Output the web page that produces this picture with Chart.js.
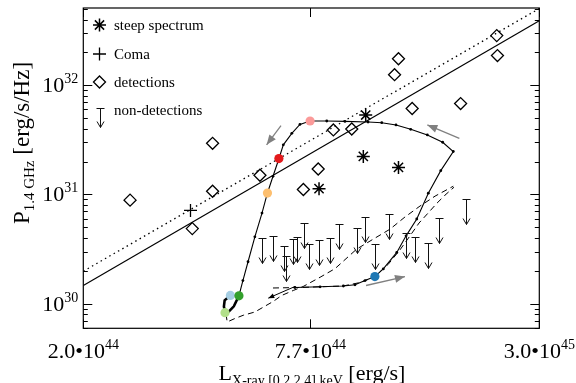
<!DOCTYPE html>
<html>
<head>
<meta charset="utf-8">
<script src="https://cdn.jsdelivr.net/npm/chart.js@4.4.0/dist/chart.umd.min.js"></script>
<style>
html, body { margin: 0; padding: 0; background: #fff; }
</style>
</head>
<body>
<canvas id="c" width="576" height="383"></canvas>
<script>
// axis ranges and tick labels
var xMin = 2.0e44, xMax = 3.0e45;
var yMin = 5.95e29, yMax = 5.1e32;
var xTicks = [2.0e44, 7.7e44, 3.0e45];
var xTickLabels = [['2.0\u202210', '44'], ['7.7\u202210', '44'], ['3.0\u202210', '45']];
var yTicks = [1e30, 1e31, 1e32];
var yTickLabels = [['10', '30'], ['10', '31'], ['10', '32']];

// fitted relations
var fitX = [2.0e44, 3.0e45];
var fitSolidY = [1.47e30, 3.90e32];
var fitDottedY = [1.98e30, 5.04e32];

// radio detections
var detX = [2.64e44, 4.31e44, 4.31e44, 3.82e44, 5.71e44, 7.39e44, 8.07e44, 8.83e44, 9.85e44, 1.41e45, 1.30e45, 1.27e45, 1.88e45, 2.33e45, 2.34e45];
var detY = [8.87e30, 2.94e31, 1.07e31, 4.87e30, 1.50e31, 1.11e31, 1.71e31, 3.90e31, 3.98e31, 6.13e31, 1.75e32, 1.25e32, 6.80e31, 2.85e32, 1.87e32];

// steep spectrum sources
var steepX = [1.07e45, 1.055e45, 1.30e45, 8.11e44];
var steepY = [5.34e31, 2.23e31, 1.77e31, 1.13e31];

// Coma
var comaX = [3.78e44];
var comaY = [7.15e30];

// upper limits (non-detections)
var limX = [5.77e44, 6.18e44, 6.60e44, 6.67e44, 6.94e44, 7.13e44, 7.42e44, 7.66e44, 8.12e44, 8.66e44, 9.13e44, 1.018e45, 1.066e45, 1.131e45, 1.229e45, 1.36e45, 1.43e45, 1.55e45, 1.65e45, 1.94e45];
var limY = [4.03e30, 4.18e30, 3.34e30, 2.71e30, 3.90e30, 4.12e30, 5.43e30, 3.53e30, 3.80e30, 3.98e30, 5.34e30, 4.97e30, 6.26e30, 3.51e30, 6.66e30, 4.42e30, 4.12e30, 3.56e30, 6.13e30, 9.12e30];

// simulated track
var trackX = [7.03e44, 8.16e44, 9.37e44, 1.004e45, 1.066e45, 1.129e45, 1.188e45, 1.287e45, 1.36e45, 1.449e45, 1.552e45, 1.671e45, 1.80e45, 1.69e45, 1.543e45, 1.398e45, 1.281e45, 1.177e45, 1.085e45, 9.46e44, 8.49e44, 7.69e44, 7.24e44, 6.90e44, 6.56e44, 6.39e44, 6.17e44, 5.97e44, 5.78e44, 5.54e44, 5.32e44, 5.16e44, 5.04e44];
var trackY = [1.407e30, 1.427e30, 1.451e30, 1.488e30, 1.628e30, 1.771e30, 2.08e30, 2.945e30, 4.18e30, 5.96e30, 1.028e31, 1.653e31, 2.475e31, 3.008e31, 3.51e31, 3.95e31, 4.33e31, 4.54e31, 4.61e31, 4.67e31, 4.71e31, 4.71e31, 4.38e31, 3.63e31, 2.85e31, 2.125e31, 1.467e31, 1.032e31, 6.76e30, 4.09e30, 2.42e30, 1.628e30, 1.182e30];
var hookX = [5.04e44, 4.89e44, 4.75e44, 4.64e44, 4.61e44, 4.63e44, 4.79e44];
var hookY = [1.182e30, 9.45e29, 8.51e29, 8.28e29, 9.45e29, 1.072e30, 1.19e30];

var dashAX = [4.67e44, 4.70e44, 4.92e44, 5.17e44, 5.54e44, 5.89e44, 6.18e44, 6.50e44, 6.96e44, 7.38e44, 8.16e44, 8.92e44, 1.014e45, 1.119e45, 1.236e45, 1.351e45, 1.477e45, 1.615e45, 1.80e45];
var dashAY = [7.99e29, 6.80e29, 7.31e29, 7.83e29, 8.39e29, 9.51e29, 1.049e30, 1.19e30, 1.321e30, 1.436e30, 1.745e30, 2.094e30, 3.16e30, 3.90e30, 4.81e30, 6.22e30, 7.83e30, 9.65e30, 1.19e31];
var dashBX = [6.17e44, 7.24e44, 9.35e44, 1.034e45, 1.124e45, 1.221e45, 1.312e45, 1.392e45, 1.469e45, 1.55e45, 1.634e45, 1.713e45, 1.808e45];
var dashBY = [1.392e30, 1.407e30, 1.451e30, 1.561e30, 1.752e30, 2.277e30, 3.116e30, 4.18e30, 5.48e30, 6.76e30, 8.33e30, 9.85e30, 1.165e31];

// coloured snapshots on the track
var snapX = [4.64e44, 4.79e44, 5.04e44, 5.97e44, 6.39e44, 7.69e44, 1.13e45];
var snapY = [8.28e29, 1.19e30, 1.18e30, 1.03e31, 2.13e31, 4.71e31, 1.77e30];
var snapColors = ['#b2df8a', '#a6cee3', '#33a02c', '#fdbf6f', '#e31a1c', '#fb9a99', '#1f78b4'];

// direction arrows, [tail, tip]
var arrowsX = [[6.47e44, 5.94e44], [1.866e45, 1.543e45], [1.072e45, 1.351e45]];
var arrowsY = [[4.27e31, 2.85e31], [3.27e31, 4.33e31], [1.467e30, 1.771e30]];
var backArrowX = [7.03e44, 6.00e44];
var backArrowY = [1.436e30, 1.124e30];

var legendLabels = ['steep spectrum', 'Coma', 'detections', 'non-detections'];

var SERIF = '"Liberation Serif", "DejaVu Serif", serif';

function pts(xs, ys) {
    return xs.map(function (x, i) { return { x: x, y: ys[i] }; });
}

// down arrow with a bar on top; (x, y) is the bar
function limitMark(ctx, x, y, len) {
    x = Math.round(x) + 0.5;
    y = Math.round(y) + 0.5;
    ctx.beginPath();
    ctx.moveTo(x - 4, y); ctx.lineTo(x + 4, y);
    ctx.moveTo(x, y); ctx.lineTo(x, y + len);
    ctx.moveTo(x - 3.5, y + len - 6); ctx.lineTo(x, y + len); ctx.lineTo(x + 3.5, y + len - 6);
    ctx.stroke();
}

// text made of pieces with their own size and baseline shift
function drawPieces(ctx, pieces, x, y, align) {
    var w = 0;
    pieces.forEach(function (p) {
        ctx.font = p.s + 'px ' + SERIF;
        p.w = ctx.measureText(p.t).width;
        w += p.w;
    });
    var cx = align === 'center' ? x - w / 2 : (align === 'right' ? x - w : x);
    ctx.textAlign = 'left';
    ctx.textBaseline = 'alphabetic';
    pieces.forEach(function (p) {
        ctx.font = p.s + 'px ' + SERIF;
        ctx.fillText(p.t, cx, y + (p.dy || 0));
        cx += p.w;
    });
}

function arrowHead(ctx, x0, y0, x1, y1, len, half, color) {
    var a = Math.atan2(y1 - y0, x1 - x0);
    ctx.save();
    ctx.fillStyle = color;
    ctx.translate(x1, y1);
    ctx.rotate(a);
    ctx.beginPath();
    ctx.moveTo(0, 0);
    ctx.lineTo(-len, -half);
    ctx.lineTo(-len, half);
    ctx.closePath();
    ctx.fill();
    ctx.restore();
}

var decor = {
    id: 'decor',
    afterDatasetsDraw: function (chart) {
        var ctx = chart.ctx;
        chart.data.datasets.forEach(function (ds, i) {
            var el = chart.getDatasetMeta(i).data;
            if (ds.arrow) {
                var a = el[el.length - 2], b = el[el.length - 1];
                arrowHead(ctx, a.x, a.y, b.x, b.y, ds.arrow.len, ds.arrow.half, ds.borderColor);
            }
            if (ds.limits) {
                ctx.save();
                ctx.strokeStyle = '#111';
                ctx.lineWidth = 1;
                el.forEach(function (p) { limitMark(ctx, p.x, p.y, 25); });
                ctx.restore();
            }
        });
    },
    afterDraw: function (chart) {
        var ctx = chart.ctx, ca = chart.chartArea;
        var xs = chart.scales.x, ys = chart.scales.y;
        ctx.save();
        ctx.strokeStyle = '#000';
        ctx.lineWidth = 1.2;
        ctx.strokeRect(ca.left, ca.top, ca.right - ca.left, ca.bottom - ca.top);

        ctx.lineWidth = 1;
        ctx.beginPath();
        for (var n = 29; n <= 32; n++) {
            for (var k = 1; k <= 9; k++) {
                var v = k * Math.pow(10, n);
                if (v < yMin || v > yMax) continue;
                var py = Math.round(ys.getPixelForValue(v)) + 0.5;
                var len = k === 1 ? 9 : 4.5;
                ctx.moveTo(ca.left, py); ctx.lineTo(ca.left + len, py);
                ctx.moveTo(ca.right, py); ctx.lineTo(ca.right - len, py);
            }
        }
        xTicks.forEach(function (v) {
            var px = Math.round(xs.getPixelForValue(v)) + 0.5;
            ctx.moveTo(px, ca.bottom); ctx.lineTo(px, ca.bottom - 9);
            ctx.moveTo(px, ca.top); ctx.lineTo(px, ca.top + 9);
        });
        ctx.stroke();

        ctx.fillStyle = '#000';
        yTicks.forEach(function (v, i) {
            var py = ys.getPixelForValue(v);
            drawPieces(ctx, [{ t: yTickLabels[i][0], s: 22 }, { t: yTickLabels[i][1], s: 14, dy: -9 }], ca.left - 5, py + 7, 'right');
        });
        xTicks.forEach(function (v, i) {
            var px = xs.getPixelForValue(v);
            drawPieces(ctx, [{ t: xTickLabels[i][0], s: 22 }, { t: xTickLabels[i][1], s: 14, dy: -9 }], px, 358, 'center');
        });

        drawPieces(ctx, [{ t: 'L', s: 22 }, { t: 'X-ray [0.2,2.4] keV', s: 14, dy: 5 }, { t: ' [erg/s]', s: 22 }], 312, 380, 'center');

        ctx.save();
        ctx.translate(29, 143);
        ctx.rotate(-Math.PI / 2);
        drawPieces(ctx, [{ t: 'P', s: 23 }, { t: '1.4 GHz', s: 15, dy: 5 }, { t: ' [erg/s/Hz]', s: 23 }], 0, 0, 'center');
        ctx.restore();

        // legend
        var sx = 99.5, tx = 114, rows = [25, 54, 82, 110];
        ctx.strokeStyle = '#000';
        ctx.lineWidth = 1.5;
        Chart.helpers.drawPoint(ctx, { pointStyle: 'star', radius: 6.5, rotation: 0, borderWidth: 1.5 }, sx, rows[0]);
        ctx.lineWidth = 1.3;
        Chart.helpers.drawPoint(ctx, { pointStyle: 'cross', radius: 6.5, rotation: 0, borderWidth: 1.3 }, sx, rows[1]);
        ctx.fillStyle = '#fff';
        Chart.helpers.drawPoint(ctx, { pointStyle: 'rectRot', radius: 6, rotation: 0, borderWidth: 1.3 }, sx, rows[2]);
        ctx.strokeStyle = '#111';
        ctx.lineWidth = 1;
        limitMark(ctx, sx, 108, 19);
        ctx.fillStyle = '#000';
        legendLabels.forEach(function (t, i) {
            drawPieces(ctx, [{ t: t, s: 15 }], tx, rows[i] + 5, 'left');
        });
        ctx.restore();
    }
};

var datasets = [];
datasets.push({
    data: pts(snapX, snapY), showLine: false, pointRadius: 4.6, pointBorderWidth: 0,
    pointBackgroundColor: snapColors, order: 0
});
arrowsX.forEach(function (ax, i) {
    datasets.push({
        data: pts(ax, arrowsY[i]), showLine: true, borderColor: '#808080', borderWidth: 1.3,
        pointRadius: 0, arrow: { len: 10, half: 4 }, order: 1
    });
});
datasets.push({
    data: pts(backArrowX, backArrowY), showLine: true, borderColor: '#000', borderWidth: 1,
    pointRadius: 0, arrow: { len: 6, half: 2.5 }, order: 2
});
datasets.push({
    data: pts(trackX, trackY), showLine: true, borderColor: '#000', borderWidth: 1.1,
    pointRadius: 1.4, pointBackgroundColor: '#000', pointBorderWidth: 0, order: 2
});
datasets.push({
    data: pts(hookX, hookY), showLine: true, borderColor: '#000', borderWidth: 2.6,
    pointRadius: 0, order: 2
});
datasets.push({
    data: pts(dashAX, dashAY), showLine: true, borderColor: '#000', borderWidth: 1,
    borderDash: [6, 4], pointRadius: 0, order: 3
});
datasets.push({
    data: pts(dashBX, dashBY), showLine: true, borderColor: '#000', borderWidth: 1,
    borderDash: [6, 4], pointRadius: 0, order: 3
});
datasets.push({
    data: pts(steepX, steepY), showLine: false, pointStyle: 'star', pointRadius: 6.5,
    pointBorderColor: '#000', pointBorderWidth: 1.5, order: 4
});
datasets.push({
    data: pts(comaX, comaY), showLine: false, pointStyle: 'cross', pointRadius: 6.5,
    pointBorderColor: '#000', pointBorderWidth: 1.3, order: 4
});
datasets.push({
    data: pts(detX, detY), showLine: false, pointStyle: 'rectRot', pointRadius: 6,
    pointBorderColor: '#000', pointBackgroundColor: 'rgba(255,255,255,0)', pointBorderWidth: 1.3, order: 4
});
datasets.push({
    data: pts(limX, limY), showLine: false, pointRadius: 0, limits: true, order: 4
});
datasets.push({
    data: pts(fitX, fitSolidY), showLine: true, borderColor: '#000', borderWidth: 1.2,
    pointRadius: 0, order: 5
});
datasets.push({
    data: pts(fitX, fitDottedY), showLine: true, borderColor: '#000', borderWidth: 1.3,
    borderDash: [1.5, 3.5], pointRadius: 0, order: 5
});

new Chart(document.getElementById('c'), {
    type: 'scatter',
    data: { datasets: datasets },
    options: {
        responsive: false,
        animation: false,
        events: [],
        layout: { padding: { left: 83.3, top: 5.3, right: 576 - 539.3, bottom: 383 - 328.3 } },
        plugins: { legend: { display: false }, tooltip: { enabled: false } },
        scales: {
            x: { type: 'logarithmic', min: xMin, max: xMax, display: false },
            y: { type: 'logarithmic', min: yMin, max: yMax, display: false }
        }
    },
    plugins: [decor]
});
</script>
</body>
</html>
